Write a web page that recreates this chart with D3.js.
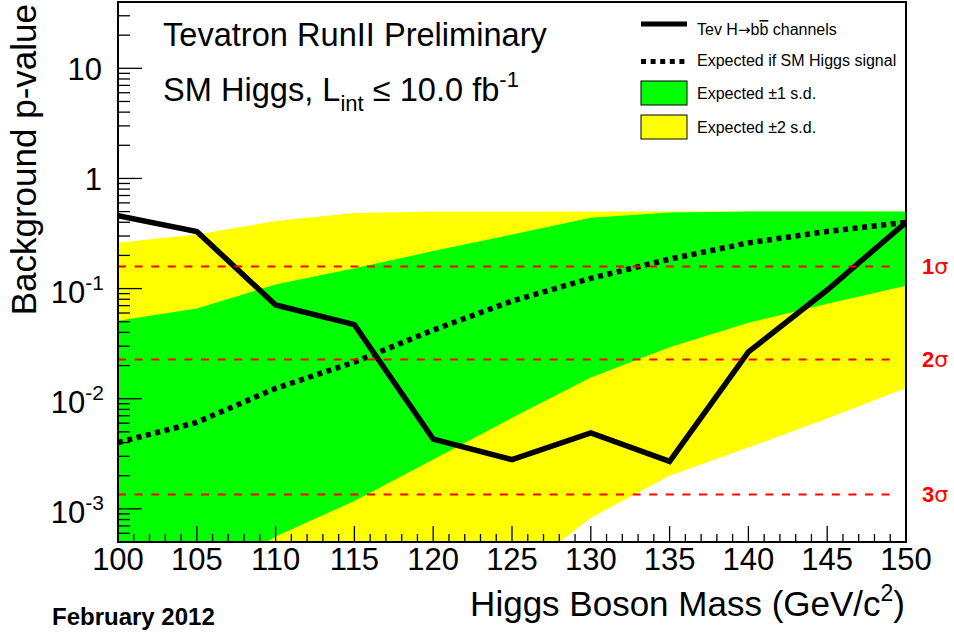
<!DOCTYPE html>
<html>
<head>
<meta charset="utf-8">
<script src="https://cdn.jsdelivr.net/npm/d3@7"></script>
<style>
  html, body { margin: 0; padding: 0; background: #fff; }
  svg { display: block; font-family: "Liberation Sans", Arial, Helvetica, sans-serif; }
</style>
</head>
<body>
<svg id="chart" width="954" height="638"></svg>
<script>
// ---- data ----
const masses    = [100, 105, 110, 115, 120, 125, 130, 135, 140, 145, 150];
const observed  = [0.46, 0.33, 0.071, 0.047, 0.0043, 0.0028, 0.0049, 0.0027, 0.0266, 0.097, 0.40];
const expected  = [0.0040, 0.0061, 0.0124, 0.0215, 0.042, 0.077, 0.124, 0.185, 0.26, 0.33, 0.40];
const greenUp   = [0.051, 0.066, 0.109, 0.153, 0.219, 0.31, 0.44, 0.49, 0.5, 0.5, 0.5];
const greenDn   = [0.00008, 0.0002, 0.00056, 0.00118, 0.0028, 0.0067, 0.0156, 0.0293, 0.049, 0.073, 0.106];
const yellowUp  = [0.26, 0.31, 0.41, 0.485, 0.5, 0.5, 0.5, 0.5, 0.5, 0.5, 0.5];
const yellowDn  = [0.000005, 0.00001, 0.00002, 0.00004, 0.00008, 0.00023, 0.00083, 0.002, 0.0036, 0.0066, 0.0125];
const sigmaP      = [0.1587, 0.02275, 0.00135];
const sigmaLabels = ["1", "2", "3"];
const xTickLabels = [100, 105, 110, 115, 120, 125, 130, 135, 140, 145, 150];
const yDecades    = [0.001, 0.01, 0.1, 1, 10];
const yDecadeLabels = [["10", "-3"], ["10", "-2"], ["10", "-1"], ["1", ""], ["10", ""]];
const legendItems = ["Tev H", "Expected if SM Higgs signal", "Expected \u00b11 s.d.", "Expected \u00b12 s.d."];

// ---- layout ----
const L = 118, R = 906, T = 2, B = 542;
const svg = d3.select("#chart");
const x = d3.scaleLinear().domain([100, 150]).range([L, R]);
const y = d3.scaleLog().domain([5e-4, 40]).range([B, T]);

svg.append("defs").append("clipPath").attr("id", "plotclip")
  .append("rect").attr("x", L).attr("y", T).attr("width", R - L).attr("height", B - T);

const plot = svg.append("g").attr("clip-path", "url(#plotclip)");
const idx = d3.range(masses.length);

const area = (lo, hi) => d3.area()
  .x(i => x(masses[i])).y0(i => y(lo[i])).y1(i => y(hi[i]));

plot.append("path").datum(idx).attr("d", area(yellowDn, yellowUp)).attr("fill", "#ffff00");
plot.append("path").datum(idx).attr("d", area(greenDn, greenUp)).attr("fill", "#00ff00");

// sigma lines
sigmaP.forEach(p => {
  svg.append("line").attr("x1", L).attr("x2", 897).attr("y1", y(p)).attr("y2", y(p))
    .attr("stroke", "#ff0000").attr("stroke-width", 2).attr("stroke-dasharray", "8,8.6");
});

const line = vals => d3.line().x(i => x(masses[i])).y(i => y(vals[i]));

plot.append("path").datum(idx).attr("d", line(expected)).attr("fill", "none")
  .attr("stroke", "#000").attr("stroke-width", 5.5).attr("stroke-dasharray", "5,4.6");
plot.append("path").datum(idx).attr("d", line(observed)).attr("fill", "none")
  .attr("stroke", "#000").attr("stroke-width", 5.5).attr("stroke-linejoin", "miter");

// sigma labels
sigmaP.forEach((p, i) => {
  const t = svg.append("text").attr("x", 922).attr("y", y(p) + 8)
    .attr("fill", "#ff0000").attr("font-size", 22).attr("font-weight", "bold");
  t.append("tspan").text(sigmaLabels[i]);
  t.append("tspan").attr("font-weight", "normal").attr("font-family", "DejaVu Sans").text("\u03c3");
});

// ---- axes ticks ----
const ticks = svg.append("g").attr("stroke", "#000").attr("stroke-width", 1.3);
d3.range(100, 151, 1).forEach(m => {
  const len = (m % 5 === 0) ? 16 : 8;
  ticks.append("line").attr("x1", x(m)).attr("x2", x(m)).attr("y1", B).attr("y2", B - len);
});
const yDom = y.domain();
for (let e = -4; e <= 1; e++) {
  for (let k = 1; k <= 9; k++) {
    const v = k * Math.pow(10, e);
    if (v <= yDom[0] * 1.0001 || v >= yDom[1] * 0.9999) continue;
    const len = k === 1 ? 24 : 12;
    ticks.append("line").attr("x1", L).attr("x2", L + len).attr("y1", y(v)).attr("y2", y(v));
  }
}

// x tick labels
xTickLabels.forEach(m => {
  svg.append("text").attr("x", x(m)).attr("y", 570).attr("text-anchor", "middle")
    .attr("font-size", 31).text(m);
});

// y tick labels
yDecades.forEach((v, i) => {
  const [base, sup] = yDecadeLabels[i];
  const t = svg.append("text").attr("x", sup ? 104 : 102).attr("y", y(v) + (sup ? 14 : 12))
    .attr("text-anchor", "end").attr("font-size", 31);
  t.append("tspan").text(base);
  if (sup) t.append("tspan").attr("font-size", 21).attr("dy", -13).text(sup);
});

// frame
svg.append("rect").attr("x", L).attr("y", T).attr("width", R - L).attr("height", B - T)
  .attr("fill", "none").attr("stroke", "#000").attr("stroke-width", 2);

// axis titles
const xt = svg.append("text").attr("x", 905).attr("y", 616).attr("text-anchor", "end").attr("font-size", 35);
xt.append("tspan").text("Higgs Boson Mass (GeV/c");
xt.append("tspan").attr("font-size", 23).attr("dy", -15).text("2");
xt.append("tspan").attr("dy", 15).text(")");

svg.append("text").attr("transform", "translate(36,4) rotate(-90)").attr("text-anchor", "end")
  .attr("font-size", 35).text("Background p-value");

svg.append("text").attr("x", 52).attr("y", 625).attr("font-size", 24).attr("font-weight", "bold")
  .text("February 2012");

// header text
svg.append("text").attr("x", 163).attr("y", 46).attr("font-size", 32.6).text("Tevatron RunII Preliminary");
const h2 = svg.append("text").attr("x", 163).attr("y", 101).attr("font-size", 32.6);
h2.append("tspan").text("SM Higgs, L");
h2.append("tspan").attr("font-size", 22).attr("dy", 10).text("int");
h2.append("tspan").attr("dy", -10).text(" \u2264 10.0 fb");
h2.append("tspan").attr("font-size", 22).attr("dy", -14).text("-1");

// ---- legend ----
const lg = svg.append("g");
const lx0 = 641, lx1 = 687, tx = 697;
lg.append("line").attr("x1", lx0).attr("x2", lx1).attr("y1", 24).attr("y2", 24)
  .attr("stroke", "#000").attr("stroke-width", 5);
lg.append("line").attr("x1", lx0).attr("x2", lx1).attr("y1", 61.5).attr("y2", 61.5)
  .attr("stroke", "#000").attr("stroke-width", 5).attr("stroke-dasharray", "5,4.6");
lg.append("rect").attr("x", lx0).attr("y", 81).attr("width", lx1 - lx0).attr("height", 24)
  .attr("fill", "#00ff00").attr("stroke", "#000").attr("stroke-width", 1);
lg.append("rect").attr("x", lx0).attr("y", 115).attr("width", lx1 - lx0).attr("height", 24)
  .attr("fill", "#ffff00").attr("stroke", "#000").attr("stroke-width", 1);
const t1 = lg.append("text").attr("x", tx).attr("y", 35).attr("font-size", 16);
t1.append("tspan").text(legendItems[0]);
t1.append("tspan").attr("font-family", "DejaVu Sans").attr("font-size", 15).text("\u2192");
t1.append("tspan").text("b");
t1.append("tspan").attr("style", "text-decoration: overline").text("b");
t1.append("tspan").text(" channels");
lg.append("text").attr("x", tx).attr("y", 66).attr("font-size", 16).text(legendItems[1]);
lg.append("text").attr("x", tx).attr("y", 99).attr("font-size", 16).text(legendItems[2]);
lg.append("text").attr("x", tx).attr("y", 133).attr("font-size", 16).text(legendItems[3]);
</script>
</body>
</html>
